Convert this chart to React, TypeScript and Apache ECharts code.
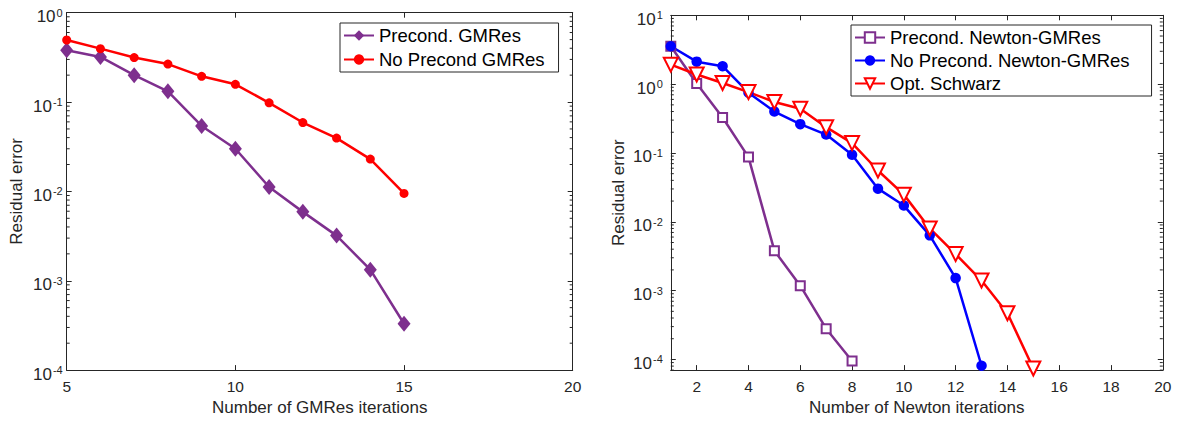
import React, { useEffect, useRef } from "react";
import * as echarts from "echarts";

// ---- data ----
const gmresIters = [5, 6, 7, 8, 9, 10, 11, 12, 13, 14, 15];
const precondGmres = [0.38, 0.32, 0.2, 0.132, 0.054, 0.03, 0.0112, 0.0059, 0.0032, 0.00133, 0.00033];
const noPrecondGmres = [0.495, 0.396, 0.315, 0.266, 0.194, 0.158, 0.098, 0.059, 0.0395, 0.023, 0.0095];

const newtonItersPre = [1, 2, 3, 4, 5, 6, 7, 8];
const precondNewton = [3.55, 1.02, 0.327, 0.087, 0.0038, 0.00118, 0.00028, 0.000095];
const newtonItersNo = [1, 2, 3, 4, 5, 6, 7, 8, 9, 10, 11, 12, 13];
const noPrecondNewton = [3.55, 2.12, 1.82, 0.75, 0.4, 0.262, 0.185, 0.094, 0.0303, 0.0172, 0.00635, 0.00152, 0.000081];
const schwarzIters = [1, 2, 3, 4, 5, 6, 7, 8, 9, 10, 11, 12, 13, 14, 15];
const optSchwarz = [1.92, 1.38, 1.04, 0.766, 0.55, 0.44, 0.237, 0.139, 0.0556, 0.0248, 0.008, 0.00339, 0.0014, 0.00047, 0.000074];

const leftXRange = [5, 20];
const leftXStep = 5;
const leftYRange = [1e-4, 1];
const rightXRange = [1, 20];
const rightXTicks = [2, 4, 6, 8, 10, 12, 14, 16, 18, 20];
const rightYRange = [7e-5, 10];

const leftXTitle = "Number of GMRes iterations";
const rightXTitle = "Number of Newton iterations";
const yTitle = "Residual error";

const PURPLE = "#7E2F8E";
const RED = "#FF0000";
const BLUE = "#0000FF";
const AX = "#262626";
const FONT = "Liberation Sans, Arial, Helvetica, sans-serif";

const pairs = (xs: number[], ys: number[]) => xs.map((x, i) => [x, ys[i]]);

const minorValues = (lo: number, hi: number) => {
  const out: number[] = [];
  for (let e = -6; e <= 1; e++) {
    for (let k = 2; k <= 9; k++) {
      const v = k * Math.pow(10, e);
      if (v > lo && v < hi) out.push(v);
    }
  }
  return out;
};

const powLabel = (v: number) => {
  const e = Math.log10(v);
  const r = Math.round(e);
  if (Math.abs(e - r) > 1e-6) return "";
  return `{b|10}{s|${r}}`;
};

const yRich = {
  b: { fontSize: 17, verticalAlign: "bottom", color: AX, fontFamily: FONT },
  s: { fontSize: 11, lineHeight: 25, verticalAlign: "middle", color: AX, fontFamily: FONT, padding: [0, 0, 0, 1] },
};

const lineStyleAx = { color: AX, width: 1 };

function xAxes(gridIndex: number, range: number[], title: string, gap: number, extra: any) {
  const base = {
    gridIndex,
    type: "value",
    min: range[0],
    max: range[1],
    splitLine: { show: false },
    axisLine: { show: true, onZero: false, lineStyle: lineStyleAx },
  };
  return [
    {
      ...base,
      ...extra,
      position: "bottom",
      axisTick: { inside: true, length: 5, lineStyle: lineStyleAx, ...(extra.axisTick || {}) },
      axisLabel: { margin: 8, fontSize: 15.5, color: AX, fontFamily: FONT, ...(extra.axisLabel || {}) },
      name: title,
      nameLocation: "middle",
      nameGap: gap,
      nameTextStyle: { fontSize: 17, color: AX, fontFamily: FONT },
    },
    {
      ...base,
      ...extra,
      position: "top",
      axisTick: { inside: true, length: 5, lineStyle: lineStyleAx, ...(extra.axisTick || {}) },
      axisLabel: { show: false },
    },
  ];
}

function yAxes(gridIndex: number, range: number[], gap: number, margin: number) {
  const base = {
    gridIndex,
    type: "log",
    logBase: 10,
    min: range[0],
    max: range[1],
    splitLine: { show: false },
    minorSplitLine: { show: false },
    axisLine: { show: true, onZero: false, lineStyle: lineStyleAx },
    axisTick: { inside: true, length: 5, lineStyle: lineStyleAx },
  };
  return [
    {
      ...base,
      position: "left",
      axisLabel: {
        margin,
        formatter: powLabel,
        rich: yRich,
        showMinLabel: true,
        showMaxLabel: true,
        hideOverlap: false,
      },
      name: yTitle,
      nameLocation: "middle",
      nameGap: gap,
      nameRotate: 90,
      nameTextStyle: { fontSize: 17, color: AX, fontFamily: FONT },
    },
    { ...base, position: "right", axisLabel: { show: false } },
  ];
}

function minorSeries(xAxisIndex: number, yAxisIndex: number, x0: number, range: number[]) {
  return {
    type: "custom",
    xAxisIndex,
    yAxisIndex,
    silent: true,
    clip: false,
    z: 1,
    data: minorValues(range[0], range[1]).map((v) => [x0, v]),
    renderItem: (params: any, api: any) => {
      const cs = params.coordSys;
      const y = api.coord([api.value(0), api.value(1)])[1];
      const st = { stroke: AX, lineWidth: 1 };
      return {
        type: "group",
        children: [
          { type: "line", shape: { x1: cs.x, y1: y, x2: cs.x + 3, y2: y }, style: st },
          { type: "line", shape: { x1: cs.x + cs.width - 3, y1: y, x2: cs.x + cs.width, y2: y }, style: st },
        ],
      };
    },
  };
}

const legendBase = {
  orient: "vertical",
  itemWidth: 30,
  itemHeight: 13,
  borderColor: AX,
  borderWidth: 1,
  backgroundColor: "#fff",
  textStyle: { fontSize: 18.5, color: "#000", fontFamily: FONT },
  selectedMode: false,
};

export default function App() {
  const ref = useRef<HTMLDivElement>(null);
  useEffect(() => {
    if (!ref.current) return;
    const chart = echarts.init(ref.current, undefined, { renderer: "svg" });
    const option: any = {
      animation: false,
      backgroundColor: "#fff",
      grid: [
        { left: 66.7, top: 12.7, width: 506, height: 360, containLabel: false },
        { left: 670.8, top: 15.3, width: 492, height: 357.4, containLabel: false },
      ],
      xAxis: [
        ...xAxes(0, leftXRange, leftXTitle, 26, { interval: leftXStep }),
        ...xAxes(1, rightXRange, rightXTitle, 27, {
          axisTick: { customValues: rightXTicks },
          axisLabel: { customValues: rightXTicks },
        }),
      ],
      yAxis: [...yAxes(0, leftYRange, 42, 4), ...yAxes(1, rightYRange, 44, 8)],
      legend: [
        {
          ...legendBase,
          data: ["Precond. GMRes", "No Precond GMRes"],
          left: 340,
          top: 23,
          itemGap: 5,
          padding: [3, 14, 3, 3],
        },
        {
          ...legendBase,
          data: ["Precond. Newton-GMRes", "No Precond. Newton-GMRes", "Opt. Schwarz"],
          left: 851,
          top: 25,
          itemGap: 4,
          padding: [3, 22, 3, 3],
        },
      ],
      series: [
        minorSeries(0, 0, leftXRange[0], leftYRange),
        minorSeries(2, 2, rightXRange[0], rightYRange),
        {
          name: "Precond. GMRes",
          type: "line",
          xAxisIndex: 0,
          yAxisIndex: 0,
          data: pairs(gmresIters, precondGmres),
          symbol: "diamond",
          symbolSize: [13, 16],
          itemStyle: { color: PURPLE },
          lineStyle: { color: PURPLE, width: 2.5 },
          clip: false,
          z: 3,
        },
        {
          name: "No Precond GMRes",
          type: "line",
          xAxisIndex: 0,
          yAxisIndex: 0,
          data: pairs(gmresIters, noPrecondGmres),
          symbol: "circle",
          symbolSize: 9,
          itemStyle: { color: RED },
          lineStyle: { color: RED, width: 2.5 },
          clip: false,
          z: 3,
        },
        {
          name: "Precond. Newton-GMRes",
          type: "line",
          xAxisIndex: 2,
          yAxisIndex: 2,
          data: pairs(newtonItersPre, precondNewton),
          symbol: "emptyRect",
          symbolSize: 9,
          itemStyle: { color: PURPLE, borderWidth: 2.5 },
          lineStyle: { color: PURPLE, width: 2.5 },
          clip: false,
          z: 3,
        },
        {
          name: "No Precond. Newton-GMRes",
          type: "line",
          xAxisIndex: 2,
          yAxisIndex: 2,
          data: pairs(newtonItersNo, noPrecondNewton),
          symbol: "circle",
          symbolSize: 10.5,
          itemStyle: { color: BLUE },
          lineStyle: { color: BLUE, width: 2.5 },
          clip: false,
          z: 3,
        },
        {
          name: "Opt. Schwarz",
          type: "line",
          xAxisIndex: 2,
          yAxisIndex: 2,
          data: pairs(schwarzIters, optSchwarz),
          symbol: "emptyTriangle",
          symbolRotate: 180,
          symbolSize: 14,
          itemStyle: { color: RED, borderWidth: 2 },
          lineStyle: { color: RED, width: 2.5 },
          clip: false,
          z: 3,
        },
      ],
    };
    chart.setOption(option);
    return () => chart.dispose();
  }, []);
  return (
    <div
      ref={ref}
      style={{ position: "absolute", left: 0, top: 0, width: 1183, height: 421, background: "#fff" }}
    />
  );
}
